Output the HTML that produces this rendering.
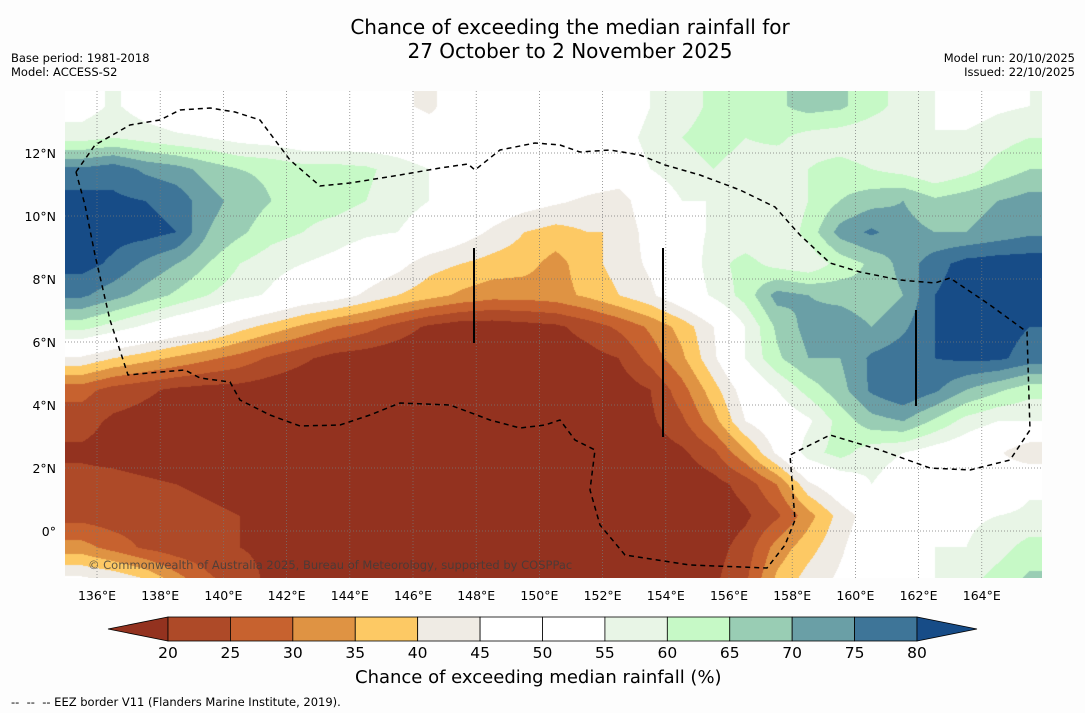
<!DOCTYPE html>
<html><head><meta charset="utf-8">
<style>
body{margin:0;background:#fdfdfd;font-family:"DejaVu Sans",sans-serif;}
#wrap{position:relative;width:1085px;height:713px;overflow:hidden;background:#fdfdfd;}
.t{position:absolute;white-space:nowrap;color:#000;}
</style></head><body>
<div id="wrap">
<div class="t" style="left:0;width:1140px;text-align:center;top:15px;font-size:20px;line-height:24px;">Chance of exceeding the median rainfall for<br>27 October to 2 November 2025</div>
<div class="t" style="left:11px;top:51px;font-size:11.5px;line-height:14px;">Base period: 1981-2018<br>Model: ACCESS-S2</div>
<div class="t" style="right:10px;top:51px;font-size:11.5px;line-height:14px;text-align:right;">Model run: 20/10/2025<br>Issued: 22/10/2025</div>
<canvas id="map" width="977" height="487" style="position:absolute;left:65px;top:91px;"></canvas>
<svg id="ov" width="1085" height="713" style="position:absolute;left:0;top:0;"></svg>
<div class="t" style="left:88px;top:558px;font-size:11.5px;color:rgba(60,60,60,0.8);">© Commonwealth of Australia 2025, Bureau of Meteorology, supported by COSPPac</div>
<div class="t" style="left:355px;top:667px;font-size:18px;">Chance of exceeding median rainfall (%)</div>
<div class="t" style="left:11px;top:695px;font-size:11.5px;">-- &nbsp;-- &nbsp;-- EEZ border V11 (Flanders Marine Institute, 2019).</div>
</div>
<script>
const lonTicks=[136,138,140,142,144,146,148,150,152,154,156,158,160,162,164];
const latTicks=[12,10,8,6,4,2,0];
const levels=[20,25,30,35,40,45,50,55,60,65,70,75,80];
const colors=["#93321f","#ae4a28","#c7622f","#df9343","#fdc964","#efebe4","#ffffff","#ffffff","#e8f5e6","#c6f9c6","#99cdb4","#6a9fa6","#3e7598","#174c87"];
const gridLatCenters=[13.5,12.5,11.5,10.5,9.5,8.5,7.5,6.5,5.5,4.5,3.5,2.5,1.5,0.5,-0.5,-1.5];
const gridLonStart=135.5;
const r135=[52,56,52,50,50,50,50,50,52,48,46,44,48,50,50,50,52,50,55,58,61,62,64,67,66,62,58,55,52,54,55];
const r125=[58,60,58,56,55,53,52,50,50,50,50,48,46,48,50,50,50,52,57,60,62,60,61,58,57,56,56,55,56,58,60];
const r115=[76,78,74,72,68,65,64,62,62,61,58,55,52,55,52,50,50,50,55,58,60,58,57,60,62,60,58,55,58,62,65];
const r105=[82,81,80,78,72,68,65,62,62,60,57,55,52,50,48,46,44,42,50,55,55,56,55,60,65,68,70,66,68,70,72];
const r95=[83,82,82,80,70,66,62,60,58,56,55,52,48,44,40,38,40,40,48,52,56,56,55,62,72,76,72,70,70,72,74];
const r85=[82,79,74,70,65,60,57,55,53,50,47,42,40,38,37,33,38,42,46,50,58,62,58,56,62,66,72,78,82,83,83];
const r75=[76,72,68,64,60,57,54,50,48,44,40,37,34,32,32,33,36,40,44,50,56,62,72,70,68,66,70,80,83,83,82];
const r65=[62,58,54,50,47,42,38,34,30,27,23,19,17,17,18,19,22,26,31,37,45,55,66,72,74,70,74,80,82,82,80];
const r55=[44,40,37,34,31,28,24,21,18,17,16,15,15,15,16,17,18,20,27,34,44,55,64,70,70,76,78,80,81,81,78];
const r45=[27,23,21,19,18,18,17,16,16,16,16,16,16,16,16,16,16,17,20,28,38,48,55,62,68,76,80,76,70,66,62];
const r35=[22,19,18,17,16,16,16,16,16,16,16,16,16,16,16,16,16,17,19,24,33,45,50,54,62,68,70,64,58,55,55];
const r25=[19,18,17,16,16,16,16,16,16,16,16,16,16,16,16,16,16,16,17,19,24,34,46,58,62,57,55,52,50,46,40];
const r15=[22,22,21,20,19,18,17,16,16,16,16,16,16,16,16,16,16,16,16,16,18,22,30,44,50,55,52,50,52,50,54];
const r05=[23,22,22,22,21,20,19,18,17,16,16,16,16,16,16,16,16,16,16,16,17,19,24,33,42,48,50,52,54,55,56];
const rm05=[32,28,24,22,21,20,19,18,17,16,16,16,16,16,16,16,16,16,16,16,18,22,32,38,44,50,52,55,55,58,62];
const rm15=[46,44,40,32,26,22,19,18,17,16,16,16,16,16,16,16,16,16,16,17,19,24,36,42,46,50,52,55,58,62,66];
const grid=[r135,r125,r115,r105,r95,r85,r75,r65,r55,r45,r35,r25,r15,r05,rm05,rm15];

const MX=65,MY=91,MW=977,MH=487;
function xOf(lon){return 97+(lon-136)*31.6;}
function yOf(lat){return 531-lat*31.5;}
function lonOf(x){return 136+(x-97)/31.6;}
function latOf(y){return (531-y)/31.5;}
function hex(c){return [parseInt(c.slice(1,3),16),parseInt(c.slice(3,5),16),parseInt(c.slice(5,7),16)];}
const rgb=colors.map(hex);
function band(v){let i=0;while(i<levels.length&&v>=levels[i])i++;return i;}
function sample(lon,lat){
  const nr=grid.length,nc=grid[0].length;
  let fc=lon-gridLonStart, fr=(gridLatCenters[0]-lat);
  fc=Math.max(0,Math.min(nc-1,fc));fr=Math.max(0,Math.min(nr-1,fr));
  const c0=Math.floor(fc),r0=Math.floor(fr),c1=Math.min(nc-1,c0+1),r1=Math.min(nr-1,r0+1);
  const tc=fc-c0,tr=fr-r0;
  const a=grid[r0][c0]*(1-tc)+grid[r0][c1]*tc;
  const b=grid[r1][c0]*(1-tc)+grid[r1][c1]*tc;
  return a*(1-tr)+b*tr;
}
const cv=document.getElementById('map'),ctx=cv.getContext('2d');
const img=ctx.createImageData(MW,MH);
for(let py=0;py<MH;py++){const lat=latOf(py+MY);
  for(let px=0;px<MW;px++){const v=sample(lonOf(px+MX),lat);const c=rgb[band(v)];const k=(py*MW+px)*4;
    img.data[k]=c[0];img.data[k+1]=c[1];img.data[k+2]=c[2];img.data[k+3]=255;}}
ctx.putImageData(img,0,0);

const NS='http://www.w3.org/2000/svg',ov=document.getElementById('ov');
function mk(tag,attrs){const e=document.createElementNS(NS,tag);for(const k in attrs)e.setAttribute(k,attrs[k]);ov.appendChild(e);return e;}
const FF='DejaVu Sans, sans-serif';
lonTicks.forEach(l=>{const x=xOf(l);
  const g=mk('line',{x1:x,y1:MY,x2:x,y2:MY+MH,stroke:'#777','stroke-width':0.7,'stroke-dasharray':'1,2'});
  
  
  const t=mk('text',{x:x,y:600,'text-anchor':'middle','font-size':12.5,'font-family':FF});t.textContent=l+'°E';
  
  });
latTicks.forEach(l=>{const y=yOf(l);
  const g=mk('line',{x1:MX,y1:y,x2:MX+MW,y2:y,stroke:'#777','stroke-width':0.7,'stroke-dasharray':'1,2'});
  
  
  const t=mk('text',{x:56,y:y+5,'text-anchor':'end','font-size':12.5,'font-family':FF});t.textContent=l===0?'0°':l+'°N';
  
  });
const eez="76,172 95,145 130,125 160,120 180,110 210,108 235,112 260,120 290,160 320,186 350,183 400,175 440,168 468,164 475,170 500,150 535,143 560,145 580,152 610,150 640,155 665,165 700,175 740,190 775,207 800,235 830,263 860,272 900,280 935,283 950,278 990,305 1027,332 1030,430 1010,460 970,470 930,468 880,450 830,435 790,455 795,520 785,545 767,568 690,565 625,555 600,525 590,490 595,450 575,440 560,420 545,425 520,428 490,420 450,405 400,403 370,415 340,425 300,426 270,415 240,400 230,382 200,378 185,370 160,372 128,375 110,320 95,255 85,205 76,172";
const pl=mk('polyline',{points:eez,fill:'none',stroke:'#000','stroke-width':1.5,'stroke-dasharray':'5,4'});


[[474,248,343],[663,248,437],[916,310,406]].forEach(s=>{const l=mk('line',{x1:s[0],y1:s[1],x2:s[0],y2:s[2],stroke:'#000','stroke-width':2});
  
  });
const cbX0=168,cbX1=917,cbY=617,cbH=24,segW=(cbX1-cbX0)/(levels.length-1);
const lt=mk('polygon',{points:`${cbX0},${cbY} ${cbX0},${cbY+cbH} 108,${cbY+cbH/2}`,fill:colors[0],stroke:'#000','stroke-width':0.8});


for(let i=0;i<levels.length-1;i++){const r=mk('rect',{x:cbX0+i*segW,y:cbY,width:segW,height:cbH,fill:colors[i+1],stroke:'#000','stroke-width':0.8});
  
  }
const rt=mk('polygon',{points:`${cbX1},${cbY} ${cbX1},${cbY+cbH} 977,${cbY+cbH/2}`,fill:colors[colors.length-1],stroke:'#000','stroke-width':0.8});


levels.forEach((v,i)=>{const t=mk('text',{x:cbX0+i*segW,y:658,'text-anchor':'middle','font-size':15.5,'font-family':FF});t.textContent=v;
  
  });
</script>
</body></html>
